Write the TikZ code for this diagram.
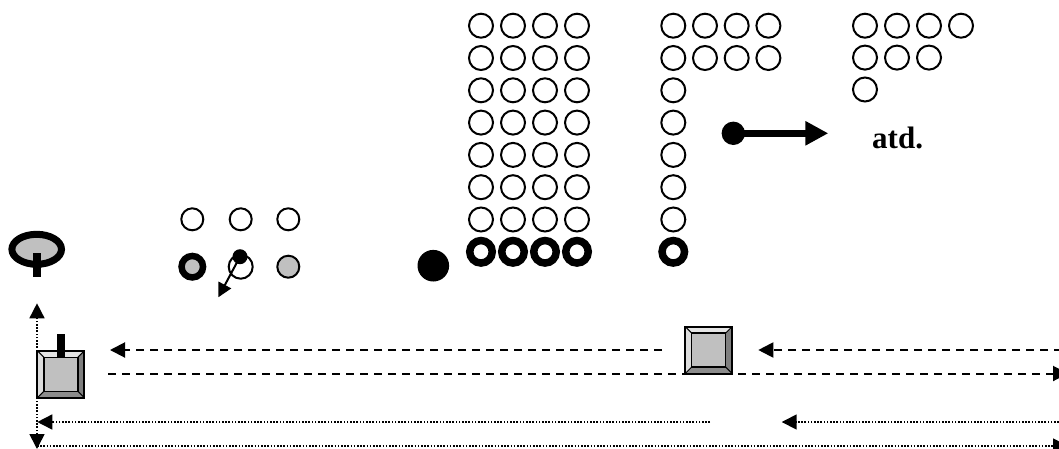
\documentclass[tikz,border=0pt]{standalone}
\usepackage{fontspec}
\setmainfont{Liberation Serif}
\usetikzlibrary{arrows.meta,shapes.geometric}
\definecolor{fillgray}{HTML}{C0C0C0}
\definecolor{bvtop}{HTML}{E4E4E4}
\definecolor{bvleft}{HTML}{DCDCDC}
\definecolor{bvright}{HTML}{7F7F7F}
\definecolor{bvbot}{HTML}{8C8C8C}
\begin{document}
\begin{tikzpicture}[x=1pt,y=-1pt,
  thincirc/.style={circle,draw=black,line width=2pt,fill=white,minimum size=24pt,inner sep=0pt},
  thickring/.style={circle,draw=black,line width=7.5pt,fill=white,minimum size=22.5pt,inner sep=0pt},
  smallcirc/.style={circle,draw=black,line width=2pt,fill=white,minimum size=22pt,inner sep=0pt},
  blackdot/.style={circle,fill=black,inner sep=0pt},
  dasharrow/.style={line width=2pt,dash pattern=on 8pt off 6pt,-{Triangle[length=15pt,width=15pt]}},
  dotline/.style={line width=1.6pt,dash pattern=on 1.6pt off 1.6pt},
  dotarrow/.style={dotline,-{Triangle[length=15pt,width=15pt]}},
  bevelbox/.pic={
    \fill[bvtop] (-23.5,-23.5) -- (23.5,-23.5) -- (17,-17) -- (-17,-17) -- cycle;
    \fill[bvleft] (-23.5,-23.5) -- (-17,-17) -- (-17,17) -- (-23.5,23.5) -- cycle;
    \fill[bvright] (23.5,-23.5) -- (23.5,23.5) -- (17,17) -- (17,-17) -- cycle;
    \fill[bvbot] (-23.5,23.5) -- (-17,17) -- (17,17) -- (23.5,23.5) -- cycle;
    \fill[fillgray] (-17,-17) rectangle (17,17);
    \draw[line width=1.3pt] (-17,-17) rectangle (17,17);
    \draw[line width=1pt] (-23.5,-23.5) -- (-17,-17) (23.5,-23.5) -- (17,-17)
         (23.5,23.5) -- (17,17) (-23.5,23.5) -- (-17,17);
    \draw[line width=2pt] (-23.5,-23.5) rectangle (23.5,23.5);
  }
]
\clip (0,0) rectangle (1059,448);
\fill[white] (0,0) rectangle (1059,448);

% grid 1
\foreach \r in {0,...,6}
  \foreach \c in {0,...,3}
    \node[thincirc] (a\r\c) at ({481+32*\c},{25.7+32.3*\r}) {};
\foreach \c in {0,...,3}
  \node[thickring] (a7\c) at ({481+32*\c},251.8) {};

% grid 2
\foreach \r in {0,1}
  \foreach \c in {0,...,3}
    \node[thincirc] (b\r\c) at ({673.3+31.7*\c},{25.7+32.3*\r}) {};
\foreach \r in {2,...,6}
  \node[thincirc] (b\r0) at (673.3,{25.7+32.3*\r}) {};
\node[thickring] (b70) at (673.3,251.8) {};

% grid 3
\foreach \c in {0,...,3}
  \node[thincirc] (c0\c) at ({865+32*\c},25.7) {};
\foreach \c in {0,...,2}
  \node[thincirc] (c1\c) at ({865+32*\c},57.6) {};
\node[thincirc] (c20) at (865,89.5) {};

% big arrow and text
\node[blackdot,minimum size=23.4pt] (bigdot) at (733.3,133.3) {};
\coordinate (bigtip) at (828.3,133.3);
\draw[line width=7pt,-{Triangle[length=23pt,width=23pt]}] (bigdot.center) -- (bigtip);
\node[anchor=base west,inner sep=0pt,font=\fontsize{31}{31}\selectfont\bfseries] (atd) at (872,148.3) {atd.};

% big black dot
\node[blackdot,minimum size=31.6pt] (bdot) at (433.3,265.7) {};

% small group
\node[smallcirc] (s1) at (192.3,219.3) {};
\node[smallcirc] (s2) at (240.7,219.3) {};
\node[smallcirc] (s3) at (288.3,219.3) {};
\node[circle,draw=black,line width=6.5pt,fill=fillgray,minimum size=21.5pt,inner sep=0pt] (s4) at (192.3,266.7) {};
\node[thincirc] (s5) at (240.7,266.7) {};
\node[smallcirc,fill=fillgray] (s6) at (288.3,266.7) {};
\node[blackdot,minimum size=15pt] (sdot) at (240,256.7) {};
\coordinate (stip) at (218.3,297.3);
\draw[line width=2pt,-{Triangle[length=14pt,width=14pt]}] (sdot.center) -- (stip);

% Q shape
\coordinate (qc) at (36.7,249.3);
\draw[line width=7pt,fill=fillgray] (qc) ellipse [x radius=24.8, y radius=15];
\fill[black] (33.3,253.3) rectangle (40.7,277.3);

% lines
\coordinate (d1s) at (662,350);
\coordinate (d1e) at (110,350);
\draw[dasharrow] (d1s) -- (d1e);
\coordinate (d2s) at (1062,350);
\coordinate (d2e) at (758.3,350);
\draw[dasharrow] (d2s) -- (d2e);
\coordinate (d3s) at (108,373.5);
\coordinate (d3e) at (1068,373.5);
\draw[dasharrow] (d3s) -- (d3e);

\coordinate (o1s) at (710,422);
\coordinate (o1e) at (37.3,422);
\draw[dotarrow] (o1s) -- (o1e);
\coordinate (o2s) at (1062,422);
\coordinate (o2e) at (781.7,422);
\draw[dotarrow] (o2s) -- (o2e);
\coordinate (o3s) at (37,446);
\coordinate (o3e) at (1068,446);
\draw[dotarrow] (o3s) -- (o3e);
\coordinate (vtop) at (37,303.3);
\coordinate (vbot) at (37,449);
\draw[dotline,{Triangle[length=15pt,width=15pt]}-{Triangle[length=15pt,width=15pt]}] (vbot) -- (vtop);

% boxes
\pic (lbox) at (60.9,374.2) {bevelbox};
\fill[black] (57.3,334.3) rectangle (65,357.3);
\pic (rbox) at (708.7,350) {bevelbox};
\end{tikzpicture}
\end{document}
